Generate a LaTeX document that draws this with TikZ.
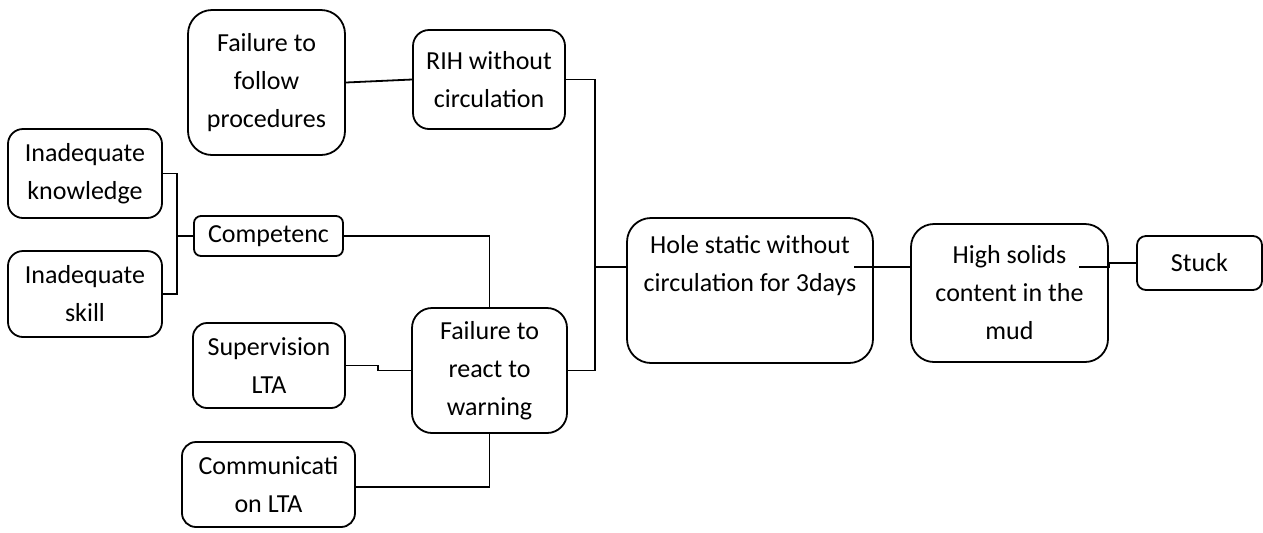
\documentclass[tikz,border=0pt]{standalone}
\usepackage{fontspec}
\setmainfont{Carlito}
\begin{document}
\begin{tikzpicture}[x=0.5pt, y=-0.5pt,
  box/.style={draw, line width=0.9pt, rounded corners=#1, align=center,
    inner sep=0pt, font=\fontsize{13pt}{19pt}\selectfont},
  box/.default=7pt,
  lbl/.style={align=center, inner sep=0pt, font=\fontsize{13pt}{19pt}\selectfont},
  link/.style={line width=0.9pt}]
\useasboundingbox (0,0) rectangle (1263,532);

% boxes
\node[box=12pt, minimum width=78.5pt, minimum height=72.5pt] (ffp) at (266.5,82.5) {Failure to\\follow\\procedures};
\node[box=8pt, minimum width=76pt, minimum height=49.5pt] (rih) at (489,79.5) {RIH without\\circulation};
\node[box=7.5pt, minimum width=77pt, minimum height=44.5pt] (know) at (85,173.5) {Inadequate\\knowledge};
\node[box=7.5pt, minimum width=77pt, minimum height=43pt] (skill) at (85,294) {Inadequate\\skill};
\node[box=3.5pt, minimum width=74.5pt, minimum height=20pt] (comp) at (268.5,236) {Competenc};
\node[box=7pt, minimum width=76pt, minimum height=42.5pt] (sup) at (269,365.5) {Supervision\\LTA};
\node[box=10pt, minimum width=77.5pt, minimum height=62.5pt] (frw) at (489.5,370.5) {Failure to\\react to\\warning};
\node[box=7pt, minimum width=86.5pt, minimum height=42.5pt] (comm) at (268.5,484.5) {Communicati\\on LTA};
\node[box=12pt, minimum width=123pt, minimum height=72.5pt] (hole) at (750,290.5) {};
\node[lbl] (holetext) at (750,266) {Hole static without\\circulation for 3days};
\node[box=11.5pt, minimum width=98.5pt, minimum height=69pt] (high) at (1009.5,293) {High solids\\content in the\\mud};
\node[box=4.5pt, minimum width=62.5pt, minimum height=27pt] (stuck) at (1199.5,263) {Stuck};

% junction points
\coordinate (kb) at (177,236);
\coordinate (jx) at (595,267);
\coordinate (sstep) at (378,365.5);
\coordinate (hout) at (854,267);
\coordinate (hiout) at (1079,267);

% connectors
\draw[link] (ffp.east) -- (rih.west);
\draw[link] (rih.east) -| (jx) |- (frw.east);
\draw[link] (jx) -- (jx -| hole.west);
\draw[link] (know.east) -| (kb) |- (skill.east);
\draw[link] (kb) -- (comp.west);
\draw[link] (comp.east) -| (frw.north);
\draw[link] (sup.east) -- (sstep) |- (frw.west);
\draw[link] (comm.east |- 0,487) -| (frw.south);
\draw[link] (hout) -- (hout -| high.west);
\draw[link] (hiout) -- (hiout -| high.east) -- (high.east |- stuck.west) -- (stuck.west);
\end{tikzpicture}
\end{document}
